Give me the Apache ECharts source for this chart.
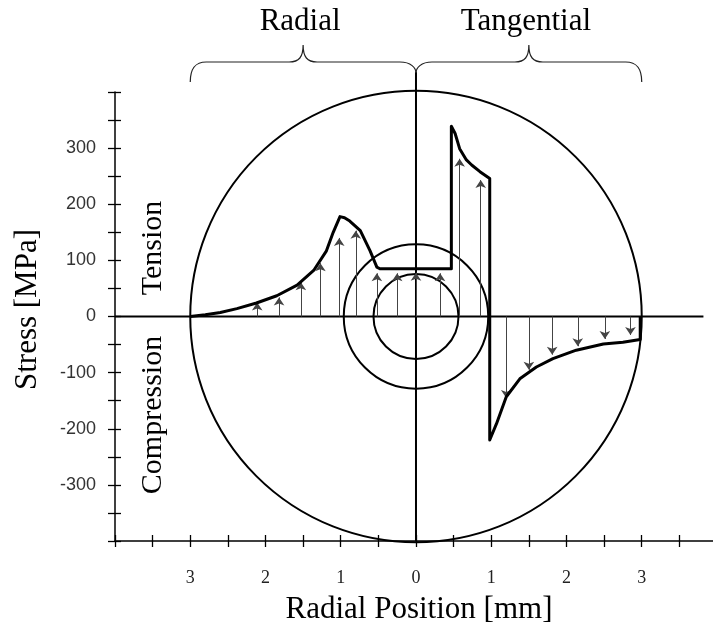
<!DOCTYPE html>
<html><head><meta charset="utf-8">
<script src="https://cdn.jsdelivr.net/npm/echarts@6/dist/echarts.min.js"></script>
<style>html,body{margin:0;padding:0;background:#fff}#c{width:713px;height:633px}</style>
</head><body><div id="c"></div>
<script>
// ---- data ----
// Radial stress, drawn on the left half (negative x = radial position mirrored)
const radialX = [-3.0, -2.8, -2.6, -2.38, -2.12, -1.85, -1.58, -1.36, -1.19, -1.10, -1.01, -0.95, -0.88, -0.74, -0.61, -0.52, -0.48, 0];
const radialY = [0, 3, 7, 14, 24, 37, 56, 82, 117, 150, 178, 176, 170, 153, 117, 88, 85, 85];
// Tangential stress, drawn on the right half
const tangX = [0, 0.47, 0.47, 0.52, 0.58, 0.67, 0.74, 0.85, 0.98, 0.98, 1.07, 1.2, 1.38, 1.6, 1.82, 2.13, 2.49, 2.75, 2.98, 2.98];
const tangY = [85, 85, 339, 326, 299, 279, 270, 258, 246, -220, -191, -143, -111, -90, -75, -60, -49, -46, -41, 0];
// Stress arrows (position, tip value)
const radialArrowX = [-2.11, -1.82, -1.53, -1.27, -1.02, -0.8, -0.52, -0.25, 0];
const radialArrowTip = [25, 34, 61, 95, 140, 153, 77, 77, 78];
const tangArrowX = [0.32, 0.58, 0.86, 1.2, 1.5, 1.81, 2.15, 2.51, 2.85];
const tangArrowTip = [77, 281, 243, -145, -95, -68, -53, -40, -33];
// Cross-section circles (radius in mm)
const circleRadii = [3, 0.96, 0.565];
// Reference lines
const zeroLineX = [-4, 3.82];
const centerLineY = [-400, 436];
// Tick labels
const xLabelValues = [-3, -2, -1, 0, 1, 2, 3];
const xLabelTexts = ['3', '2', '1', '0', '1', '2', '3'];
const yLabelValues = [300, 200, 100, 0, -100, -200, -300];
const yLabelTexts = ['300', '200', '100', '0', '-100', '-200', '-300'];
// Braces over the two halves
const braceRanges = [[-3, 0], [0, 3]];
const braceTitles = ['Radial', 'Tangential'];

const SERIF = '"Liberation Serif", "Times New Roman", serif';
const SANS = '"Liberation Sans", Arial, sans-serif';

function xFmt(v) {
  for (let i = 0; i < xLabelValues.length; i++) if (Math.abs(v - xLabelValues[i]) < 1e-9) return xLabelTexts[i];
  return '';
}
function yFmt(v) {
  for (let i = 0; i < yLabelValues.length; i++) if (Math.abs(v - yLabelValues[i]) < 1e-9) return yLabelTexts[i];
  return '';
}

const chart = echarts.init(document.getElementById('c'), null, {renderer: 'canvas'});
const gridRect = {left: 115, width: 608, top: 92, height: 449, outerBoundsMode: 'none', containLabel: false};
const xBase = {type: 'value', min: -4, max: 4.08, interval: 0.5, splitLine: {show: false}};
const yBase = {type: 'value', min: -400, max: 400, interval: 50, splitLine: {show: false}};
const tickStyle = {color: '#000', width: 1.3};

const yLine = 62, yEnd = 82, yJoin = 73, yCusp = 45;

chart.setOption({
  animation: false,
  backgroundColor: '#fff',
  grid: [Object.assign({}, gridRect), Object.assign({}, gridRect)],
  xAxis: [
    Object.assign({}, xBase, {
      gridIndex: 0, position: 'bottom',
      axisLine: {show: true, onZero: false, lineStyle: {color: '#000', width: 1.5}},
      axisTick: {show: true, inside: false, length: 6, lineStyle: tickStyle},
      axisLabel: {formatter: xFmt, margin: 28, fontFamily: SERIF, fontSize: 18, color: '#222'},
      name: 'Radial Position [mm]', nameLocation: 'middle', nameGap: 53,
      nameTextStyle: {fontFamily: SERIF, fontSize: 31, color: '#000', padding: [0, 0, 0, 0]}
    }),
    Object.assign({}, xBase, {
      gridIndex: 1, position: 'bottom',
      axisLine: {show: false, onZero: false},
      axisTick: {show: true, inside: true, length: 6, lineStyle: tickStyle},
      axisLabel: {show: false}
    })
  ],
  yAxis: [
    Object.assign({}, yBase, {
      gridIndex: 0, position: 'left',
      axisLine: {show: true, onZero: false, lineStyle: {color: '#000', width: 1.5}},
      axisTick: {show: true, inside: false, length: 7, lineStyle: tickStyle},
      axisLabel: {formatter: yFmt, margin: 19, fontFamily: SANS, fontSize: 18, color: '#333'},
      name: 'Stress [MPa]', nameLocation: 'middle', nameGap: 72,
      nameTextStyle: {fontFamily: SERIF, fontSize: 31, color: '#000', padding: [0, 0, 0, 14]}
    }),
    Object.assign({}, yBase, {
      gridIndex: 1, position: 'left',
      axisLine: {show: false, onZero: false},
      axisTick: {show: true, inside: true, length: 6, lineStyle: tickStyle},
      axisLabel: {show: false}
    })
  ],
  series: [
    {
      type: 'custom', xAxisIndex: 0, yAxisIndex: 0, silent: true, z: 2,
      data: circleRadii.map(r => [0, 0, r]),
      encode: {x: 0, y: 1},
      renderItem: function (params, api) {
        const c = api.coord([api.value(0), api.value(1)]);
        const r = api.size([api.value(2), 0])[0];
        return {type: 'circle', shape: {cx: c[0], cy: c[1], r: r},
          style: {fill: null, stroke: '#000', lineWidth: 2}};
      }
    },
    {
      // curly braces above the two halves
      type: 'custom', xAxisIndex: 0, yAxisIndex: 0, silent: true, z: 6, clip: false,
      data: braceRanges.map((r, k) => [r[0], r[1], k]),
      encode: {x: [0, 1]},
      renderItem: function (params, api) {
        const k = api.value(2);
        const a = api.coord([api.value(0), 0])[0];
        const b = api.coord([api.value(1), 0])[0];
        const m = (a + b) / 2;
        const yA = (k === 0) ? yEnd : yJoin;
        const yB = (k === 0) ? yJoin : yEnd;
        const w = 16, wc = 14;
        const d = 'M' + a + ' ' + yA +
          ' C' + a + ' ' + (yLine + 6) + ' ' + (a + 5) + ' ' + yLine + ' ' + (a + w) + ' ' + yLine +
          ' L' + (m - wc) + ' ' + yLine +
          ' C' + (m - 4) + ' ' + yLine + ' ' + m + ' ' + (yLine - 5) + ' ' + m + ' ' + yCusp +
          ' C' + m + ' ' + (yLine - 5) + ' ' + (m + 4) + ' ' + yLine + ' ' + (m + wc) + ' ' + yLine +
          ' L' + (b - w) + ' ' + yLine +
          ' C' + (b - 5) + ' ' + yLine + ' ' + b + ' ' + (yLine + 6) + ' ' + b + ' ' + yB;
        return {
          type: 'group',
          children: [
            {type: 'path', shape: {pathData: d}, style: {fill: null, stroke: '#222', lineWidth: 1.2}},
            {type: 'text', x: m - 3, y: 22, style: {text: braceTitles[k], font: '31px ' + SERIF, fill: '#000',
              align: 'center', verticalAlign: 'middle'}}
          ]
        };
      }
    },
    {
      type: 'line', xAxisIndex: 0, yAxisIndex: 0, clip: false, silent: true, z: 3,
      showSymbol: false, symbol: 'none',
      data: zeroLineX.map(x => [x, 0]),
      lineStyle: {color: '#000', width: 2}
    },
    {
      type: 'line', xAxisIndex: 0, yAxisIndex: 0, clip: false, silent: true, z: 3,
      showSymbol: false, symbol: 'none',
      data: centerLineY.map(y => [0, y]),
      lineStyle: {color: '#000', width: 2}
    },
    {
      type: 'lines', coordinateSystem: 'cartesian2d', xAxisIndex: 0, yAxisIndex: 0, z: 4, silent: true,
      symbol: ['none', 'arrow'], symbolSize: 8,
      lineStyle: {color: '#444', width: 1, opacity: 1, curveness: 0},
      data: radialArrowX.map((x, i) => ({coords: [[x, 0], [x, radialArrowTip[i]]]}))
        .concat(tangArrowX.map((x, i) => ({coords: [[x, 0], [x, tangArrowTip[i]]]})))
    },
    {
      type: 'line', xAxisIndex: 0, yAxisIndex: 0, silent: true, z: 5,
      showSymbol: false, symbol: 'none',
      data: radialX.map((x, i) => [x, radialY[i]]),
      lineStyle: {color: '#000', width: 3, join: 'round'}
    },
    {
      type: 'line', xAxisIndex: 0, yAxisIndex: 0, silent: true, z: 5,
      showSymbol: false, symbol: 'none',
      data: tangX.map((x, i) => [x, tangY[i]]),
      lineStyle: {color: '#000', width: 3, join: 'round'}
    }
  ],
  graphic: [
    {type: 'text', silent: true, z: 10, x: 153, y: 248, rotation: Math.PI / 2,
      style: {text: 'Tension', font: '30px ' + SERIF, fill: '#000', align: 'center', verticalAlign: 'middle'}},
    {type: 'text', silent: true, z: 10, x: 153, y: 415, rotation: Math.PI / 2,
      style: {text: 'Compression', font: '30px ' + SERIF, fill: '#000', align: 'center', verticalAlign: 'middle'}}
  ]
});
</script>
</body></html>
